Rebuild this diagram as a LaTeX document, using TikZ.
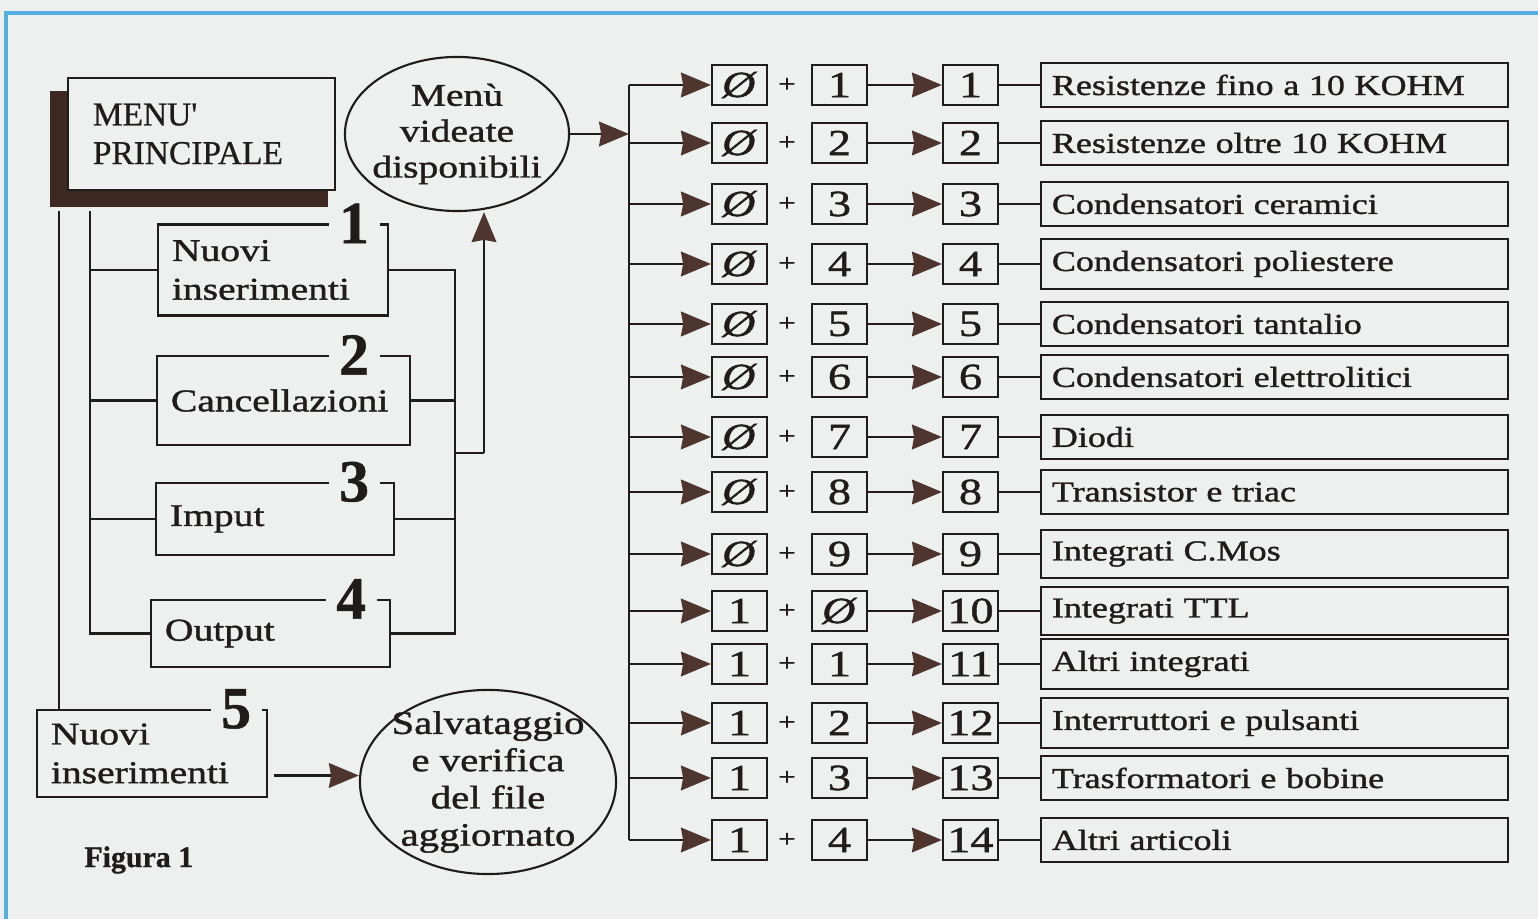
\documentclass[tikz,border=0pt]{standalone}
\usepackage{fontspec}
\setmainfont{Liberation Serif}[FakeStretch=1.25, FakeBold=1.2]
\newfontfamily\plainserif{Liberation Serif}[FakeBold=0.8]
\usetikzlibrary{positioning, calc, shapes.geometric, arrows.meta, shadows}
\definecolor{bgpaper}{RGB}{237,240,238}
\definecolor{inkline}{RGB}{32,28,28}
\definecolor{arrowbrown}{RGB}{78,54,46}
\definecolor{shadowbrown}{RGB}{62,40,34}
\definecolor{edgeblue}{RGB}{85,175,225}
\newcommand{\slz}{\textit{Ø}}

\begin{document}
\begin{tikzpicture}[
        x=0.01cm, y=-0.01cm,
        every node/.style={text=inkline},
        wire/.style={draw=inkline, semithick},
        signal/.style={-{Stealth[length=8.5pt, width=7pt, inset=0.6pt, color=arrowbrown]}, thick, draw=inkline},
        block/.style 2 args={rectangle, draw=inkline, semithick, text width=#1, minimum height=#2, inner xsep=0.14cm, align=left, font=\fontsize{9}{11}\selectfont},
        numtag/.style={font=\plainserif\bfseries\fontsize{17}{17}\selectfont, fill=bgpaper, inner xsep=3pt, inner ysep=0pt},
        bubble/.style 2 args={ellipse, draw=inkline, semithick, minimum width=#1, minimum height=#2, inner sep=-6pt, align=center},
        digbox/.style={rectangle, draw=inkline, semithick, minimum width=0.55cm, minimum height=0.40cm, inner sep=0pt, font=\fontsize{10.5}{12}\selectfont},
        catbox/.style={rectangle, draw=inkline, semithick, text width=4.45cm, inner xsep=0.11cm, minimum height=0.44cm, align=left, font=\fontsize{8.2}{9}\selectfont}
    ]
        \useasboundingbox (0,0) rectangle (1538,919);
        \fill[bgpaper] (0,0) rectangle (1538,919);
        \draw[edgeblue, line width=1pt] (6,919) -- (6,13) -- (1538,13);

        \node[block={2.17cm}{1.12cm}, inner xsep=0.25cm, fill=bgpaper, font=\plainserif\fontsize{9.5}{11}\selectfont,
              general shadow={fill=shadowbrown, shadow xshift=-3.4pt, shadow yshift=-4.1pt, shadow scale=1.04}] (menu) at (201.5,134) {MENU'\\PRINCIPALE};
        \node[bubble={2.24cm}{1.54cm}, font=\fontsize{9}{10.2}\selectfont] (menuvid) at (457,134) {Menù\\videate\\disponibili};

        \node[block={2.02cm}{0.91cm}] (nuovi) at (273,270) {Nuovi\\inserimenti};
        \node[block={2.25cm}{0.89cm}] (canc) at (283.5,400.5) {Cancellazioni};
        \node[block={2.10cm}{0.72cm}] (imput) at (275,519) {Imput};
        \node[block={2.11cm}{0.67cm}] (outp) at (270.5,633.5) {Output};
        \node[block={2.02cm}{0.87cm}] (nuovi5) at (152,753.5) {Nuovi\\inserimenti};

        \node[numtag] (n1) at ([shift={(-35,0)}]nuovi.north east) {1};
        \node[numtag] (n2) at ([shift={(-57,0)}]canc.north east) {2};
        \node[numtag] (n3) at ([shift={(-41,0)}]imput.north east) {3};
        \node[numtag] (n4) at ([shift={(-40,0)}]outp.north east) {4};
        \node[numtag] (n5) at ([shift={(-32,0)}]nuovi5.north east) {5};

        \node[bubble={2.56cm}{1.84cm}, inner sep=-9pt, font=\fontsize{9.3}{10.6}\selectfont] (salva) at (488,782) {Salvataggio\\e verifica\\del file\\aggiornato};
        \node[font=\plainserif\bfseries\fontsize{8.5}{10}\selectfont, anchor=west] (fig) at (72,860) {Figura 1};

        \coordinate (tapL) at ([shift={(-8,20)}]menu.south west);
        \coordinate (tapR) at ([shift={(23,20)}]menu.south west);
        \draw[wire] (tapL) -- (tapL |- nuovi5.north);
        \draw[wire] (tapR) |- (outp.west);
        \draw[wire] (tapR |- nuovi.west) -- (nuovi.west);
        \draw[wire] (tapR |- canc.west) -- (canc.west);
        \draw[wire] (tapR |- imput.west) -- (imput.west);

        \coordinate (join) at (455,453);
        \coordinate (upfoot) at (484,453);
        \draw[wire] (nuovi.east) -| (join) |- (outp.east);
        \draw[wire] (canc.east) -- (canc.east -| join);
        \draw[wire] (imput.east) -- (imput.east -| join);
        \draw[wire] (join) -- (upfoot);
        \draw[signal] (upfoot) -- (upfoot |- menuvid.south);
        \draw[signal] ([shift={(6,22)}]nuovi5.east) coordinate (s5) -- (s5 -| salva.west);

        \coordinate (busT) at (629,85);
        \coordinate (busB) at (629,840);
        \draw[signal] (menuvid.east) -- (menuvid.east -| busT);
        \draw[wire] (busT) -- (busB);

        \foreach \y/\pa/\pb/\res/\txt [count=\i] in {
            85/\slz/1/1/Resistenze fino a 10 KOHM,
            143/\slz/2/2/Resistenze oltre 10 KOHM,
            204/\slz/3/3/Condensatori ceramici,
            264/\slz/4/4/Condensatori poliestere,
            324/\slz/5/5/Condensatori tantalio,
            377/\slz/6/6/Condensatori elettrolitici,
            437/\slz/7/7/Diodi,
            492/\slz/8/8/Transistor e triac,
            554/\slz/9/9/Integrati C.Mos,
            611/1/\slz/10/Integrati TTL,
            664/1/1/11/Altri integrati,
            723/1/2/12/Interruttori e pulsanti,
            778/1/3/13/Trasformatori e bobine,
            840/1/4/14/Altri articoli} {
            \node[digbox] (a\i) at (739.5,\y) {\pa};
            \node[font=\fontsize{7}{7}\selectfont, inner sep=0pt] (p\i) at (787,\y) {+};
            \node[digbox] (b\i) at (839.5,\y) {\pb};
            \node[digbox] (c\i) at (970.5,\y) {\res};
            \node[catbox] (lab\i) at (1274.5,\y) {\txt};
            \draw[signal] (busT |- a\i.west) -- (a\i.west);
            \draw[signal] (b\i) -- (c\i);
            \draw[wire] (c\i) -- (lab\i);
        }
    \end{tikzpicture}
\end{document}
